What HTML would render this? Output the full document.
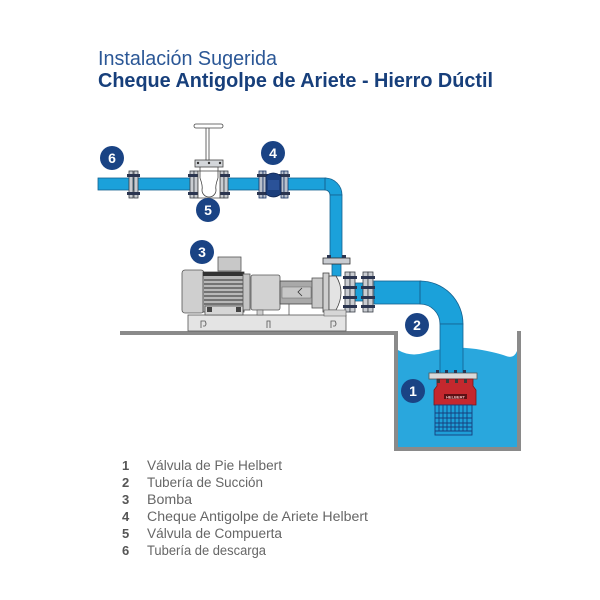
<!DOCTYPE html>
<html><head><meta charset="utf-8"><style>
html,body{margin:0;padding:0;background:#fff;}
svg{display:block;}
</style></head><body>
<svg width="600" height="600" viewBox="0 0 600 600" xmlns="http://www.w3.org/2000/svg">
<rect width="600" height="600" fill="#fff"/>
<!-- Title -->
<text x="98" y="65" font-family="Liberation Sans, sans-serif" font-size="20" fill="#2b5796" textLength="179" lengthAdjust="spacingAndGlyphs">Instalación Sugerida</text>
<text x="98" y="87" font-family="Liberation Sans, sans-serif" font-size="20" font-weight="bold" fill="#173f7b" textLength="395" lengthAdjust="spacingAndGlyphs">Cheque Antigolpe de Ariete - Hierro Dúctil</text>

<!-- Water -->
<path d="M398,350 Q410,357 424,353 T452,348 T482,350 T506,356 T517,351 L517,447 L398,447 Z" fill="#29a7dd"/>
<!-- Floor and tank -->
<rect x="120" y="331" width="278" height="4" fill="#8a8a8a"/>
<rect x="394" y="331" width="4" height="120" fill="#8a8a8a"/>
<rect x="394" y="447" width="127" height="4" fill="#8a8a8a"/>
<rect x="517" y="331" width="4" height="120" fill="#8a8a8a"/>

<!-- Discharge pipe -->
<g stroke="#16618f" stroke-width="0.8" fill="#1ba1da">
<rect x="98" y="178" width="228" height="12"/>
<path d="M325,178 A17 17 0 0 1 342 195 L330 195 A5 5 0 0 0 325 190 Z"/>
<rect x="330" y="195" width="12" height="63"/>
<rect x="332" y="264" width="9" height="12"/>
</g>
<line x1="325" y1="178" x2="325" y2="190" stroke="#16618f" stroke-width="0.8"/>

<!-- Flange helper shapes on discharge -->
<g stroke="#3a3f48" stroke-width="0.8">
<!-- flange 1 -->
<rect x="129" y="171" width="4" height="27" fill="#c9ccd1"/>
<rect x="134" y="171" width="4" height="27" fill="#c9ccd1"/>
<!-- gate valve flanges -->
<rect x="190" y="171" width="4" height="27" fill="#c9ccd1"/>
<rect x="194" y="171" width="4" height="27" fill="#c9ccd1"/>
<rect x="220" y="171" width="4" height="27" fill="#c9ccd1"/>
<rect x="224" y="171" width="4" height="27" fill="#c9ccd1"/>
<!-- check valve flanges -->
<rect x="259" y="171" width="4" height="27" fill="#b9c0cc" stroke="#1b3566"/>
<rect x="263" y="171" width="3" height="27" fill="#b9c0cc" stroke="#1b3566"/>
<rect x="281" y="171" width="3" height="27" fill="#b9c0cc" stroke="#1b3566"/>
<rect x="284" y="171" width="4" height="27" fill="#b9c0cc" stroke="#1b3566"/>
</g>
<g fill="#2b3550">
<rect x="127" y="174" width="13" height="3"/><rect x="127" y="192" width="13" height="3"/>
<rect x="188" y="174" width="12" height="3"/><rect x="188" y="192" width="12" height="3"/>
<rect x="218" y="174" width="12" height="3"/><rect x="218" y="192" width="12" height="3"/>
<rect x="257" y="174" width="11" height="3"/><rect x="257" y="192" width="11" height="3"/>
<rect x="279" y="174" width="11" height="3"/><rect x="279" y="192" width="11" height="3"/>
</g>
<!-- check valve body -->
<path d="M266,176 Q273,170 281,176 L281,194 Q273,200 266,194 Z" fill="#1d3f7c" stroke="#0f2550" stroke-width="0.8"/>
<rect x="268" y="180" width="11" height="10" fill="#2a5298"/>
<!-- gate valve body -->
<path d="M198,171 L220,171 L220,198 L198,198 Z" fill="#fff" stroke="#444" stroke-width="0.8"/>
<path d="M200,178 Q203,186 202,190 A7 7 0 0 0 216 190 Q215,186 218,178" fill="#fff" stroke="#444" stroke-width="0.8"/>
<line x1="200" y1="167" x2="200" y2="178" stroke="#444" stroke-width="0.8"/>
<line x1="218" y1="167" x2="218" y2="178" stroke="#444" stroke-width="0.8"/>
<rect x="195" y="160" width="28" height="7" fill="#d3d6da" stroke="#444" stroke-width="0.8"/>
<rect x="206" y="126" width="3" height="34" fill="#fff" stroke="#444" stroke-width="0.8"/>
<rect x="194" y="124" width="29" height="4" rx="2" fill="#fff" stroke="#444" stroke-width="0.8"/>
<circle cx="198" cy="163" r="1.2" fill="#333"/><circle cx="220" cy="163" r="1.2" fill="#333"/><circle cx="209" cy="163" r="1.2" fill="#333"/>

<!-- discharge flange at pump -->
<rect x="323" y="258" width="27" height="6" fill="#c9ccd1" stroke="#333" stroke-width="0.8"/>
<rect x="327" y="255" width="4" height="3" fill="#2b3550"/>
<rect x="342" y="255" width="4" height="3" fill="#2b3550"/>

<!-- Suction pipe -->
<g stroke="#16618f" stroke-width="0.8" fill="#1ba1da">
<rect x="374" y="281" width="47" height="23"/>
<path d="M420,281 A43 43 0 0 1 463 324 L440 324 A20 20 0 0 0 420 304 Z"/>
<rect x="440" y="324" width="23" height="50"/>
<rect x="355" y="283" width="8" height="18"/>
</g>
<line x1="420" y1="281" x2="420" y2="304" stroke="#16618f" stroke-width="0.8"/>
<!-- suction flanges -->
<g stroke="#3a3f48" stroke-width="0.8" fill="#c9ccd1">
<rect x="345" y="272" width="5" height="40"/><rect x="350" y="272" width="5" height="40"/>
<rect x="363" y="272" width="5" height="40"/><rect x="368" y="272" width="5" height="40"/>
</g>
<g fill="#2b3550">
<rect x="343" y="276" width="14" height="3"/><rect x="343" y="286" width="14" height="3"/><rect x="343" y="296" width="14" height="3"/><rect x="343" y="305" width="14" height="3"/>
<rect x="361" y="276" width="14" height="3"/><rect x="361" y="286" width="14" height="3"/><rect x="361" y="296" width="14" height="3"/><rect x="361" y="305" width="14" height="3"/>
</g>

<!-- Base plate -->
<rect x="188" y="315" width="158" height="16" fill="#e4e4e4" stroke="#555" stroke-width="0.8"/>
<g fill="none" stroke="#555" stroke-width="0.8">
<path d="M201,328 L201,321 L205,321 Q207,324 205,326 L203,326"/>
<path d="M267,328 L267,321 L270,321 L270,328"/>
<path d="M331,328 L331,321 L335,321 Q337,324 335,326 L333,326"/>
</g>
<!-- Motor -->
<rect x="218" y="257" width="23" height="14" fill="#c8c8c8" stroke="#555" stroke-width="0.8"/>
<rect x="182" y="270" width="22" height="43" rx="3" fill="#cfcfcf" stroke="#555" stroke-width="0.8"/>
<rect x="203" y="272" width="41" height="40" fill="#b8b8b8" stroke="#444" stroke-width="0.8"/>
<rect x="203" y="272" width="41" height="4" fill="#333"/>
<g stroke="#4a4a4a" stroke-width="1.2">
<line x1="204" y1="280" x2="243" y2="280"/><line x1="204" y1="284" x2="243" y2="284"/>
<line x1="204" y1="288" x2="243" y2="288"/><line x1="204" y1="292" x2="243" y2="292"/>
<line x1="204" y1="296" x2="243" y2="296"/><line x1="204" y1="300" x2="243" y2="300"/>
<line x1="204" y1="304" x2="243" y2="304"/>
</g>
<rect x="243" y="274" width="7" height="36" fill="#c4c4c4" stroke="#555" stroke-width="0.8"/>
<rect x="205" y="306" width="38" height="9" fill="#d6d6d6" stroke="#555" stroke-width="0.8"/>
<rect x="207" y="307" width="5" height="5" fill="#444"/><rect x="236" y="307" width="5" height="5" fill="#444"/>
<!-- coupling guard -->
<rect x="251" y="275" width="29" height="35" rx="2" fill="#d2d2d2" stroke="#555" stroke-width="0.8"/>
<rect x="257" y="310" width="6" height="5" fill="#cfcfcf" stroke="#555" stroke-width="0.6"/>
<!-- shaft housing -->
<rect x="280" y="281" width="33" height="23" fill="#a9a9a9" stroke="#444" stroke-width="0.8"/>
<rect x="282" y="287" width="29" height="11" fill="#c8c8c8" stroke="#666" stroke-width="0.5"/>
<path d="M302,288 L298,292 L302,296" fill="none" stroke="#333" stroke-width="0.8"/>
<rect x="312" y="278" width="11" height="30" fill="#c9c9c9" stroke="#555" stroke-width="0.8"/>
<rect x="323" y="273" width="6" height="39" fill="#cfcfcf" stroke="#444" stroke-width="0.8"/>
<path d="M329,276 L336,276 Q346,292 336,310 L329,310 Z" fill="#e3e3e3" stroke="#444" stroke-width="0.8"/>
<path d="M324,310 L346,310 L346,316 L324,316 Z" fill="#d6d6d6" stroke="#555" stroke-width="0.6"/>
<line x1="289" y1="304" x2="289" y2="315" stroke="#555" stroke-width="0.8"/>

<!-- Foot valve -->
<rect x="429" y="373" width="48" height="6" fill="#d9d9d9" stroke="#555" stroke-width="0.8"/>
<g fill="#2b3550">
<rect x="436" y="370" width="3" height="3"/><rect x="445" y="370" width="3" height="3"/><rect x="454" y="370" width="3" height="3"/><rect x="463" y="370" width="3" height="3"/>
</g>
<path d="M437,379 L473,379 L473,386 L476,390 L476,405 L434,405 L434,390 L437,386 Z" fill="#c4282e" stroke="#7a1518" stroke-width="0.8"/>
<g fill="#3a3a3a">
<rect x="437" y="379" width="3" height="4"/><rect x="446" y="379" width="3" height="4"/><rect x="455" y="379" width="3" height="4"/><rect x="464" y="379" width="3" height="4"/>
</g>
<rect x="444" y="394" width="23" height="5" fill="#5c1014"/>
<text x="455.5" y="398.3" font-family="Liberation Sans, sans-serif" font-size="4" font-weight="bold" fill="#f0c0c0" text-anchor="middle">HELBERT</text>
<rect x="435" y="405" width="37" height="30" fill="#1e9fd8" stroke="#173e7c" stroke-width="0.9"/>
<g stroke="#173e7c" stroke-width="0.9">
<line x1="439" y1="405" x2="439" y2="431"/><line x1="443" y1="405" x2="443" y2="431"/><line x1="447" y1="405" x2="447" y2="431"/>
<line x1="451" y1="405" x2="451" y2="431"/><line x1="455" y1="405" x2="455" y2="431"/><line x1="459" y1="405" x2="459" y2="431"/>
<line x1="463" y1="405" x2="463" y2="431"/><line x1="467" y1="405" x2="467" y2="431"/>
<line x1="435" y1="413" x2="472" y2="413"/><line x1="435" y1="418" x2="472" y2="418"/><line x1="435" y1="423" x2="472" y2="423"/>
<line x1="435" y1="427" x2="472" y2="427"/><line x1="435" y1="431" x2="472" y2="431"/>
</g>

<!-- Labels -->
<g fill="#1a4384">
<circle cx="112" cy="158" r="12"/><circle cx="273" cy="153" r="12"/><circle cx="208" cy="210" r="12"/>
<circle cx="202" cy="252" r="12"/><circle cx="417" cy="325" r="12"/><circle cx="413" cy="391" r="12"/>
</g>
<g font-family="Liberation Sans, sans-serif" font-size="14" font-weight="bold" fill="#fff" text-anchor="middle">
<text x="112" y="163">6</text><text x="273" y="158">4</text><text x="208" y="215">5</text>
<text x="202" y="257">3</text><text x="417" y="330">2</text><text x="413" y="396">1</text>
</g>

<!-- Legend -->
<g font-family="Liberation Sans, sans-serif" font-size="13" font-weight="bold" fill="#555">
<text x="122" y="470">1</text><text x="122" y="487">2</text><text x="122" y="504">3</text>
<text x="122" y="521">4</text><text x="122" y="538">5</text><text x="122" y="555">6</text>
</g>
<g font-family="Liberation Sans, sans-serif" font-size="13.5" fill="#666" lengthAdjust="spacingAndGlyphs">
<text x="147" y="470" textLength="135" lengthAdjust="spacingAndGlyphs">Válvula de Pie Helbert</text>
<text x="147" y="487" textLength="116" lengthAdjust="spacingAndGlyphs">Tubería de Succión</text>
<text x="147" y="504" textLength="45" lengthAdjust="spacingAndGlyphs">Bomba</text>
<text x="147" y="521" textLength="221" lengthAdjust="spacingAndGlyphs">Cheque Antigolpe de Ariete Helbert</text>
<text x="147" y="538" textLength="135" lengthAdjust="spacingAndGlyphs">Válvula de Compuerta</text>
<text x="147" y="555" textLength="119" lengthAdjust="spacingAndGlyphs">Tubería de descarga</text>
</g>
</svg>
</body></html>
